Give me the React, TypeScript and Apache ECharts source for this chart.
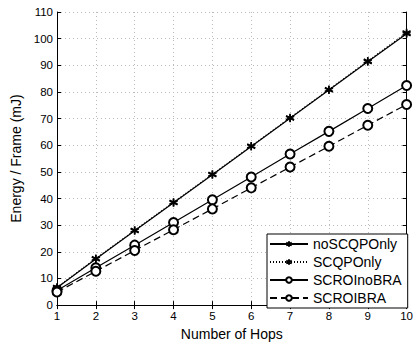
import React, { useEffect, useRef } from "react";
import * as echarts from "echarts";

const hops = [1, 2, 3, 4, 5, 6, 7, 8, 9, 10];
const noSCQPOnly = [6.5, 17.3, 27.9, 38.4, 48.9, 59.5, 70.1, 80.7, 91.3, 101.8];
const SCQPOnly = [6.7, 17.5, 28.1, 38.6, 49.1, 59.7, 70.3, 80.9, 91.6, 102.2];
const SCROInoBRA = [5.5, 14.0, 22.5, 31.0, 39.5, 48.1, 56.7, 65.2, 73.8, 82.4];
const SCROIBRA = [4.9, 12.7, 20.5, 28.3, 36.1, 44.0, 51.8, 59.6, 67.5, 75.3];
const seriesNames = ["noSCQPOnly", "SCQPOnly", "SCROInoBRA", "SCROIBRA"];

const FONT = "Liberation Sans";
const star = "path://M0,-5L0,5M-4.4,-2.5L4.4,2.5M-4.4,2.5L4.4,-2.5";

function pairs(v: number[]) {
  return hops.map((h, i) => [h, v[i]]);
}

export default function App() {
  const ref = useRef<HTMLDivElement>(null);
  useEffect(() => {
    const chart = echarts.init(ref.current!, null, { renderer: "svg" });
    const axisLine = { show: true, lineStyle: { color: "#000", width: 1 } };
    const split = { show: true, lineStyle: { color: "#bbb", type: [1, 3] as any, width: 1 } };
    chart.setOption({
      animation: false,
      backgroundColor: "#fff",
      textStyle: { fontFamily: FONT },
      grid: { left: 57, right: 5, top: 12, bottom: 34, containLabel: false },
      legend: {
        data: seriesNames,
        orient: "vertical",
        left: 267,
        top: 234,
        width: 139,
        itemWidth: 38,
        itemHeight: 7,
        itemGap: 4,
        padding: [3, 6, 3, 2],
        borderColor: "#000",
        borderWidth: 1,
        backgroundColor: "#fff",
        textStyle: { fontFamily: FONT, fontSize: 14, color: "#000" },
      },
      xAxis: [
        {
          type: "value",
          min: 1,
          max: 10,
          interval: 1,
          name: "Number of Hops",
          nameLocation: "middle",
          nameGap: 18,
          nameTextStyle: { fontFamily: FONT, fontSize: 14, color: "#000" },
          axisLine,
          axisTick: { show: true, inside: true, length: 4, lineStyle: { color: "#000" } },
          axisLabel: { fontFamily: FONT, fontSize: 11.5, color: "#000", margin: 5 },
          splitLine: split,
        },
        {
          type: "value",
          min: 1,
          max: 10,
          interval: 1,
          position: "top",
          axisLine,
          axisTick: { show: true, inside: true, length: 4, lineStyle: { color: "#000" } },
          axisLabel: { show: false },
          splitLine: { show: false },
        },
      ],
      yAxis: [
        {
          type: "value",
          min: 0,
          max: 110,
          interval: 10,
          name: "Energy / Frame (mJ)",
          nameLocation: "middle",
          nameGap: 29,
          nameTextStyle: { fontFamily: FONT, fontSize: 14, color: "#000" },
          axisLine,
          axisTick: { show: true, inside: true, length: 4, lineStyle: { color: "#000" } },
          axisLabel: { fontFamily: FONT, fontSize: 11.5, color: "#000", margin: 4 },
          splitLine: split,
        },
        {
          type: "value",
          min: 0,
          max: 110,
          interval: 10,
          position: "right",
          axisLine,
          axisTick: { show: true, inside: true, length: 4, lineStyle: { color: "#000" } },
          axisLabel: { show: false },
          splitLine: { show: false },
        },
      ],
      series: [
        {
          name: "noSCQPOnly",
          type: "line",
          data: pairs(noSCQPOnly),
          symbol: star,
          symbolSize: 8,
          lineStyle: { color: "#000", width: 1.2, type: "solid" },
          itemStyle: { color: "#000", borderColor: "#000", borderWidth: 1.6 },
        },
        {
          name: "SCQPOnly",
          type: "line",
          data: pairs(SCQPOnly),
          symbol: star,
          symbolSize: 8,
          lineStyle: { color: "#000", width: 1.2, type: [1, 2] as any },
          itemStyle: { color: "#000", borderColor: "#000", borderWidth: 1.6 },
        },
        {
          name: "SCROInoBRA",
          type: "line",
          data: pairs(SCROInoBRA),
          symbol: "emptyCircle",
          symbolSize: 9,
          lineStyle: { color: "#000", width: 1.2, type: "solid" },
          itemStyle: { color: "#000", borderColor: "#000", borderWidth: 1 },
        },
        {
          name: "SCROIBRA",
          type: "line",
          data: pairs(SCROIBRA),
          symbol: "emptyCircle",
          symbolSize: 9,
          lineStyle: { color: "#000", width: 1.2, type: [7, 4] as any },
          itemStyle: { color: "#000", borderColor: "#000", borderWidth: 1 },
        },
      ],
    });
    return () => chart.dispose();
  }, []);
  return <div ref={ref} style={{ width: 416, height: 346, position: "absolute", left: 0, top: 0 }} />;
}
